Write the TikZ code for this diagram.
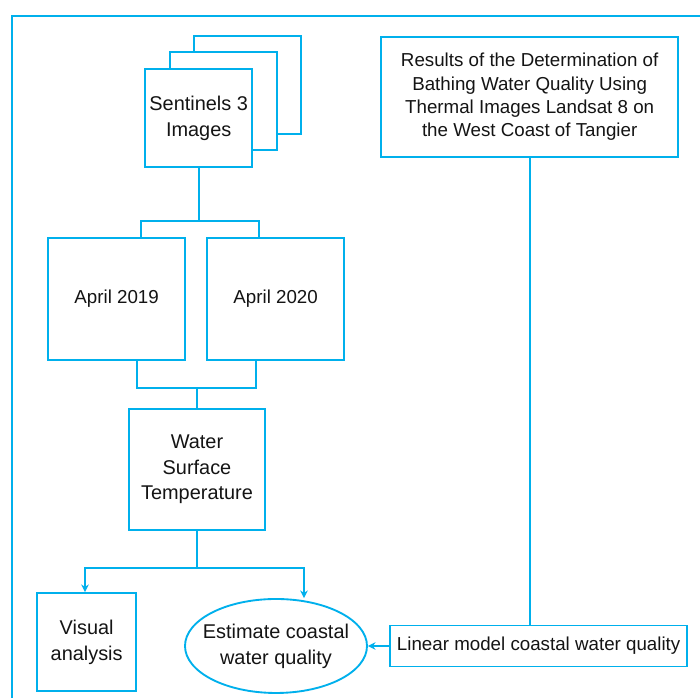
\documentclass[tikz,border=0pt]{standalone}
\usepackage{fontspec}
\setmainfont{Liberation Sans}
\usetikzlibrary{arrows.meta,positioning,shapes.geometric}
\definecolor{flowblue}{RGB}{0,176,236}

\begin{document}
\begin{tikzpicture}[>={Stealth[length=6.5pt,width=6.5pt]},font=\fontsize{16}{20}\selectfont,
 box/.style={draw=flowblue,line width=1.6pt,fill=white,text=black!92,align=center},
 big/.style={font=\fontsize{17}{22}\selectfont},
 link/.style={draw=flowblue,line width=1.6pt}]
\useasboundingbox (0,0) rectangle (21,20.94);
\draw[link] (21,20.46) -- (0.36,20.46) -- (0.36,0);
% stacked images
\node[box,minimum width=3.21cm,minimum height=2.94cm] (img3) at (7.42,18.38) {};
\node[box,minimum width=3.21cm,minimum height=2.94cm] (img2) at (6.70,17.92) {};
\node[box,big,minimum width=3.21cm,minimum height=2.94cm] (img1) at (5.96,17.40) {Sentinels 3\\Images};
\node[box,minimum width=4.11cm,minimum height=3.66cm] (apr19) at (3.50,11.97) {April 2019};
\node[box,minimum width=4.11cm,minimum height=3.66cm] (apr20) at (8.27,11.97) {April 2020};
\node[box,big,minimum width=4.08cm,minimum height=3.63cm] (wst) at (5.91,6.86) {Water\\Surface\\Temperature};
\node[box,big,minimum width=2.97cm,minimum height=2.94cm] (vis) at (2.60,1.68) {Visual\\analysis};
\node[box,big,ellipse,inner xsep=-0.27cm,inner ysep=0pt,minimum width=5.46cm,minimum height=2.82cm] (est) at (8.28,1.56) {Estimate coastal\\water quality};
\node[box,minimum width=8.91cm,minimum height=1.23cm] (lin) at (16.16,1.56) {Linear model coastal water quality};
\node[box,minimum width=8.91cm,minimum height=3.6cm] (res) at (15.89,18.03) {Results of the Determination of\\Bathing Water Quality Using\\Thermal Images Landsat 8 on\\the West Coast of Tangier};
% junctions
\coordinate (s1l) at (4.23,14.31);
\coordinate (s1r) at (7.77,14.31);
\coordinate (s2l) at (4.11,9.30);
\coordinate (s2r) at (7.68,9.30);
\coordinate (s3l) at (2.55,3.90);
\coordinate (s3r) at (9.12,3.90);
\draw[link] (img1.south) -- (img1.south |- s1l);
\draw[link] (apr19.north -| s1l) -- (s1l) -- (s1r) -- (apr20.north -| s1r);
\draw[link] (apr19.south -| s2l) -- (s2l) -- (s2r) -- (apr20.south -| s2r);
\draw[link] (wst.north) -- (wst.north |- s2l);
\draw[link] (wst.south) -- (wst.south |- s3l);
\draw[link,<->] (vis.north -| s3l) -- (s3l) -- (s3r) -- (est.north -| s3r);
\draw[link] (res.south) -- (res.south |- lin.north);
\draw[link,->] (lin) -- (est);
\end{tikzpicture}
\end{document}
